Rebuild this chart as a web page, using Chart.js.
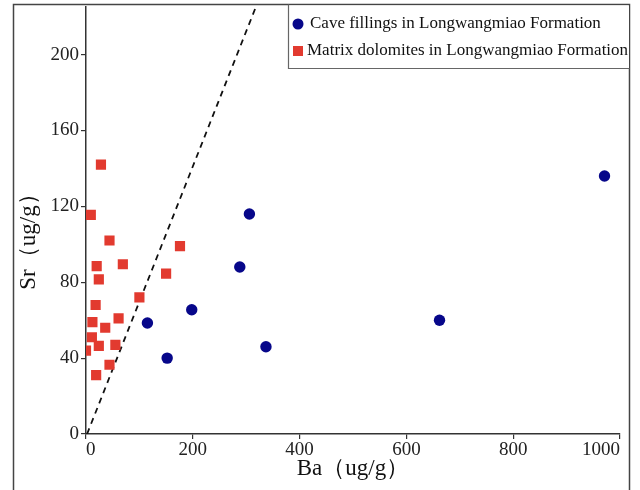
<!DOCTYPE html>
<html><head><meta charset="utf-8">
<script src="https://cdn.jsdelivr.net/npm/chart.js@4.4.0/dist/chart.umd.min.js"></script>
<style>html,body{margin:0;padding:0;background:#fff;}#wrap{width:640px;height:490px;position:relative;}</style>
</head><body><div id="wrap"><canvas id="c" width="640" height="490"></canvas></div>
<script>
const seriesNames = ["Cave fillings in Longwangmiao Formation", "Matrix dolomites in Longwangmiao Formation"];
const caveBa = [115, 152, 198, 288, 337, 306, 662, 971];
const caveSr = [58.5, 40, 65.5, 88, 46, 116, 60, 136];
const matrixBa = [28, 9, 44, 176, 20, 69, 24, 150, 100, 18, 12, 61, 36, 11, 24, 55, 0, 44, 19];
const matrixSr = [142, 115.5, 102, 99, 88.5, 89.5, 81.5, 84.5, 72, 68, 59, 61, 56, 51, 46.5, 47, 44, 36.5, 31];
const lineBa = [2, 320];
const lineSr = [0, 226.5];
const xTicks = [0, 200, 400, 600, 800, 1000];
const yTicks = [0, 40, 80, 120, 160, 200];
const xTitle = "Ba（ug/g）";
const yTitle = "Sr（ug/g）";

const toPts = (xs, ys) => xs.map((x, i) => ({x: x, y: ys[i]}));
const SERIF = "'Liberation Serif','DejaVu Serif',serif";
const BLUE = '#07078a', RED = '#e23a2f';

const framePlugin = {
  id: 'frame',
  afterDraw(chart) {
    const ctx = chart.ctx;
    ctx.save();
    ctx.strokeStyle = '#444'; ctx.lineWidth = 1.5;
    ctx.beginPath();
    ctx.moveTo(13.5, 490); ctx.lineTo(13.5, 4.5); ctx.lineTo(629.5, 4.5); ctx.lineTo(629.5, 490);
    ctx.stroke();
    // legend box
    ctx.fillStyle = '#fff';
    ctx.fillRect(289, 5.5, 340, 63);
    ctx.strokeStyle = '#666'; ctx.lineWidth = 1.2;
    ctx.beginPath();
    ctx.moveTo(288.5, 4.5); ctx.lineTo(288.5, 68.5); ctx.lineTo(629.5, 68.5);
    ctx.stroke();
    ctx.font = '17px ' + SERIF;
    ctx.textBaseline = 'middle';
    ctx.fillStyle = BLUE;
    ctx.beginPath(); ctx.arc(298, 24, 5.5, 0, Math.PI * 2); ctx.fill();
    ctx.fillStyle = RED;
    ctx.fillRect(293, 46, 10, 10);
    ctx.fillStyle = '#111';
    ctx.textAlign = 'left';
    ctx.fillText(seriesNames[0], 310, 24);
    ctx.fillText(seriesNames[1], 307, 51);
    // axis titles
    ctx.font = '23px ' + SERIF;
    ctx.textAlign = 'center';
    ctx.fillText(xTitle, 353, 469);
    ctx.save();
    ctx.translate(29, 236);
    ctx.rotate(-Math.PI / 2);
    ctx.fillText(yTitle, 0, 0);
    ctx.restore();
    ctx.restore();
  }
};

new Chart(document.getElementById('c'), {
  type: 'scatter',
  data: {
    datasets: [
      {label: 'line', type: 'line', data: toPts(lineBa, lineSr), borderColor: '#111', borderWidth: 1.8,
       borderDash: [6, 5], pointRadius: 0, fill: false, order: 3},
      {label: seriesNames[0], data: toPts(caveBa, caveSr), backgroundColor: BLUE, borderWidth: 0,
       pointRadius: 5.7, pointHoverRadius: 5.7, pointStyle: 'circle', order: 1},
      {label: seriesNames[1], data: toPts(matrixBa, matrixSr), backgroundColor: RED, borderWidth: 0,
       pointRadius: 7.2, pointHoverRadius: 7.2, pointStyle: 'rect', order: 2}
    ]
  },
  options: {
    responsive: false, animation: false,
    layout: {padding: {left: 13, top: 4, right: 20, bottom: 0}},
    plugins: {legend: {display: false}, tooltip: {enabled: false}},
    scales: {
      x: {
        type: 'linear', min: 0, max: 1000,
        afterBuildTicks: s => { s.ticks = xTicks.map(v => ({value: v})); },
        afterFit: s => { s.height = 56; s.paddingLeft = 0; s.paddingRight = 0; },
        grid: {drawOnChartArea: false, drawTicks: true, tickLength: 5, color: '#333', lineWidth: 1.2},
        border: {display: true, color: '#333', width: 1.5},
        ticks: {font: {family: SERIF, size: 19}, color: '#222', padding: 0, maxRotation: 0,
                align: 'inner', callback: v => String(v)}
      },
      y: {
        type: 'linear', min: 0, max: 225,
        afterBuildTicks: s => { s.ticks = yTicks.map(v => ({value: v})); },
        afterFit: s => { s.width = 73; s.paddingTop = 0; s.paddingBottom = 0; },
        grid: {drawOnChartArea: false, drawTicks: true, tickLength: 5, color: '#333', lineWidth: 1.2},
        border: {display: true, color: '#333', width: 1.5},
        ticks: {font: {family: SERIF, size: 19}, color: '#222', padding: 2, callback: v => String(v)}
      }
    }
  },
  plugins: [framePlugin]
});
</script></body></html>
